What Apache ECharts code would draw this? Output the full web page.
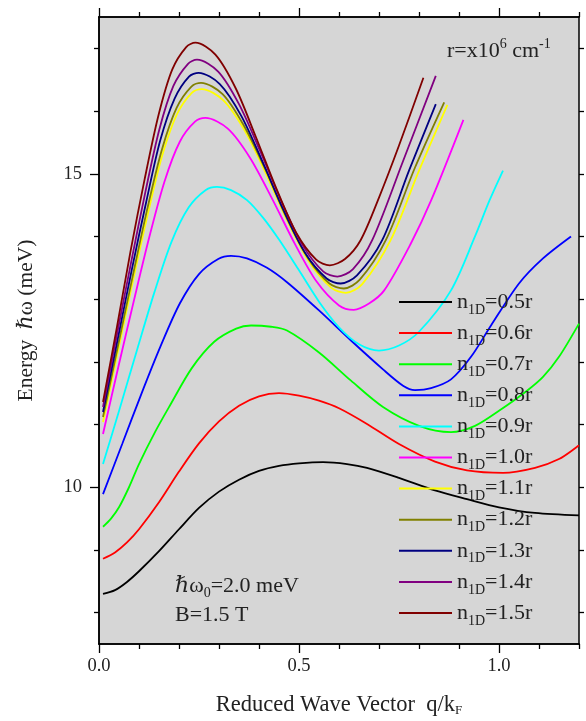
<!DOCTYPE html>
<html>
<head>
  <meta charset="utf-8">
  <title>n1D dispersion</title>
  <script src="https://cdn.jsdelivr.net/npm/echarts@6/dist/echarts.min.js"></script>
  <style>
    html, body { margin: 0; padding: 0; background: #fff; }
  </style>
</head>
<body>
  <div id="main" style="width: 586px;height:721px;"></div>

  <script type="text/javascript">
    // curve data, [q/kF, energy meV]
    var n05 = [[0.01,8.30],[0.04,8.36],[0.07,8.49],[0.10,8.66],[0.15,8.98],[0.20,9.33],[0.25,9.67],[0.30,9.93],[0.35,10.12],[0.40,10.26],[0.45,10.34],[0.50,10.38],[0.56,10.40],[0.62,10.37],[0.67,10.31],[0.75,10.15],[0.84,9.95],[0.92,9.81],[1.00,9.68],[1.09,9.59],[1.20,9.55]]
    var n06 = [[0.01,8.86],[0.04,8.96],[0.07,9.12],[0.10,9.33],[0.15,9.76],[0.20,10.25],[0.25,10.70],[0.30,11.05],[0.35,11.30],[0.40,11.45],[0.45,11.50],[0.50,11.46],[0.55,11.38],[0.60,11.26],[0.67,11.01],[0.75,10.69],[0.84,10.41],[0.92,10.27],[1.01,10.23],[1.09,10.31],[1.15,10.45],[1.20,10.67]]
    var n07 = [[0.01,9.37],[0.03,9.50],[0.05,9.68],[0.075,10.00],[0.10,10.37],[0.14,10.88],[0.177,11.30],[0.232,11.90],[0.288,12.32],[0.343,12.53],[0.38,12.58],[0.43,12.56],[0.47,12.50],[0.55,12.15],[0.63,11.70],[0.71,11.28],[0.80,10.98],[0.88,10.88],[0.94,10.98],[1.00,11.22],[1.07,11.54],[1.11,11.76],[1.15,12.08],[1.20,12.61]]
    var n08 = [[0.01,9.89],[0.058,10.69],[0.106,11.49],[0.154,12.25],[0.202,12.93],[0.25,13.40],[0.298,13.64],[0.33,13.69],[0.37,13.65],[0.42,13.50],[0.47,13.27],[0.55,12.82],[0.63,12.34],[0.71,11.88],[0.76,11.62],[0.79,11.55],[0.83,11.58],[0.88,11.72],[0.93,12.08],[0.98,12.58],[1.05,13.25],[1.11,13.65],[1.18,14.00]]
    var n09 = [[0.01,10.37],[0.053,11.28],[0.096,12.21],[0.138,13.10],[0.181,13.91],[0.224,14.46],[0.267,14.74],[0.295,14.79],[0.33,14.74],[0.37,14.58],[0.41,14.30],[0.45,13.95],[0.50,13.46],[0.55,12.96],[0.60,12.55],[0.65,12.28],[0.70,12.18],[0.75,12.26],[0.80,12.48],[0.88,13.14],[0.94,14.00],[0.976,14.57],[1.01,15.05]]
    var n10 = [[0.01,10.85],[0.048,11.91],[0.087,12.97],[0.125,13.97],[0.164,14.88],[0.202,15.51],[0.240,15.83],[0.266,15.89],[0.322,15.72],[0.377,15.26],[0.433,14.60],[0.489,13.89],[0.544,13.28],[0.600,12.90],[0.637,12.83],[0.675,12.93],[0.713,13.14],[0.779,13.88],[0.83,14.57],[0.911,15.86]]
    var n11 = [[0.01,11.04],[0.047,12.16],[0.084,13.27],[0.121,14.33],[0.158,15.29],[0.195,15.95],[0.232,16.29],[0.257,16.35],[0.311,16.17],[0.365,15.68],[0.419,14.98],[0.473,14.22],[0.527,13.58],[0.581,13.18],[0.617,13.10],[0.658,13.24],[0.729,13.94],[0.80,15.05],[0.871,16.10]]
    var n12 = [[0.01,11.12],[0.047,12.24],[0.084,13.36],[0.120,14.42],[0.157,15.38],[0.194,16.05],[0.231,16.39],[0.255,16.45],[0.309,16.27],[0.362,15.77],[0.416,15.07],[0.469,14.30],[0.523,13.65],[0.576,13.25],[0.612,13.17],[0.652,13.31],[0.717,13.94],[0.79,15.10],[0.863,16.14]]
    var n13 = [[0.01,11.20],[0.046,12.34],[0.082,13.47],[0.118,14.55],[0.153,15.53],[0.189,16.20],[0.225,16.55],[0.249,16.61],[0.302,16.43],[0.356,15.92],[0.409,15.19],[0.462,14.41],[0.515,13.74],[0.569,13.33],[0.604,13.25],[0.645,13.38],[0.708,13.94],[0.775,15.05],[0.842,16.11]]
    var n14 = [[0.01,11.28],[0.045,12.44],[0.081,13.61],[0.116,14.71],[0.151,15.71],[0.186,16.40],[0.222,16.75],[0.245,16.82],[0.298,16.63],[0.350,16.11],[0.403,15.36],[0.456,14.56],[0.508,13.87],[0.561,13.44],[0.596,13.36],[0.635,13.48],[0.683,13.94],[0.76,15.20],[0.842,16.56]]
    var n15 = [[0.01,11.36],[0.045,12.56],[0.079,13.77],[0.114,14.91],[0.149,15.94],[0.183,16.66],[0.218,17.02],[0.241,17.09],[0.291,16.90],[0.342,16.36],[0.392,15.59],[0.443,14.77],[0.493,14.06],[0.543,13.63],[0.577,13.54],[0.615,13.64],[0.654,13.94],[0.70,14.62],[0.75,15.45],[0.811,16.53]]

    var names = ['0.5r', '0.6r', '0.7r', '0.8r', '0.9r', '1.0r', '1.1r', '1.2r', '1.3r', '1.4r', '1.5r']
    var curves = [n05, n06, n07, n08, n09, n10, n11, n12, n13, n14, n15]
    var colors = ['#000000', '#ff0000', '#00ff00', '#0000ff', '#00ffff', '#ff00ff',
      '#ffff00', '#808000', '#000080', '#800080', '#800000']

    // tick positions
    var xMajor = [0, 0.5, 1.0]
    var xMinor = [0.1, 0.2, 0.3, 0.4, 0.6, 0.7, 0.8, 0.9, 1.1, 1.2]
    var yMajor = [10, 15]
    var yMinor = [8, 9, 11, 12, 13, 14, 16, 17]
    var yAll = [8, 9, 10, 11, 12, 13, 14, 15, 16, 17]

    var FONT = '"Liberation Serif", "DejaVu Serif", serif'
    var INK = '#222'

    var myChart = echarts.init(document.getElementById('main'))

    var line = { show: true, onZero: false, lineStyle: { color: '#000', width: 1.5 } }

    function xAx(pos, ticks, len, labels) {
      return {
        type: 'value', position: pos, min: 0, max: 1.2,
        axisLine: line,
        axisTick: { customValues: ticks, length: len, lineStyle: { color: '#000', width: 1.3 } },
        axisLabel: labels ? {
          customValues: ticks, margin: 13,
          fontFamily: FONT, fontSize: 18.5, color: INK,
          formatter: function (v) { return v.toFixed(1) }
        } : { show: false },
        splitLine: { show: false }
      }
    }
    function yAx(pos, ticks, len, labels) {
      return {
        type: 'value', position: pos, min: 7.5, max: 17.5,
        axisLine: line,
        axisTick: { customValues: ticks, length: len, lineStyle: { color: '#000', width: 1.3 } },
        axisLabel: labels ? {
          customValues: ticks, margin: 17,
          fontFamily: FONT, fontSize: 18.5, color: INK
        } : { show: false },
        splitLine: { show: false }
      }
    }

    var xAxes = [xAx('bottom', xMajor, 9, true), xAx('bottom', xMinor, 5, false),
      xAx('top', xMajor, 9, false), xAx('top', xMinor, 5, false)]
    xAxes[0].name = 'Reduced Wave Vector  q/k{s|F}'
    xAxes[0].nameLocation = 'middle'
    xAxes[0].nameGap = 49
    xAxes[0].nameTextStyle = {
      fontFamily: FONT, fontSize: 22.5, color: INK, lineHeight: 24,
      rich: { s: { fontFamily: FONT, fontSize: 13, color: INK, lineHeight: 8, verticalAlign: 'bottom' } }
    }

    var yAxes = [yAx('left', yMajor, 9, true), yAx('left', yMinor, 5, false), yAx('right', yAll, 5, false)]
    yAxes[0].name = 'Energy  \u210Fω (meV)'
    yAxes[0].nameLocation = 'middle'
    yAxes[0].nameRotate = 90
    yAxes[0].nameGap = 62
    yAxes[0].nameTextStyle = { fontFamily: FONT, fontSize: 21.5, color: INK, padding: [0, 0, 0, 20] }

    var series = []
    for (var i = 0; i < curves.length; i++) {
      series.push({
        name: names[i],
        type: 'line',
        xAxisIndex: 0,
        yAxisIndex: 0,
        data: curves[i],
        smooth: 0.3,
        showSymbol: false,
        symbol: 'none',
        lineStyle: { color: colors[i], width: 1.8 },
        itemStyle: { color: colors[i] },
        z: 3
      })
    }

    var option = {
      animation: false,
      backgroundColor: '#fff',
      grid: {
        left: 99, top: 17, right: 7, bottom: 77,
        show: true, backgroundColor: '#d6d6d6', borderWidth: 0,
        outerBoundsMode: 'none'
      },
      xAxis: xAxes,
      yAxis: yAxes,
      legend: {
        orient: 'vertical',
        left: 399, top: 291,
        padding: 0,
        icon: 'rect',
        itemWidth: 53, itemHeight: 2,
        itemGap: 5.1,
        data: names,
        formatter: function (name) { return '{a|n}{b|1D}{a|=' + name + '}' },
        textStyle: {
          color: INK,
          rich: {
            a: { fontFamily: FONT, fontSize: 22, color: INK, lineHeight: 30 },
            b: { fontFamily: FONT, fontSize: 14, color: INK, lineHeight: 8, verticalAlign: 'bottom' }
          }
        }
      },
      graphic: [
        {
          type: 'text', left: 447, top: 37,
          style: {
            text: '{a|r=x10}{c|6}{a| cm}{d|-1}',
            rich: {
              a: { fontFamily: FONT, fontSize: 22, fill: INK, lineHeight: 28 },
              c: { fontFamily: FONT, fontSize: 14, fill: INK, lineHeight: 15, verticalAlign: 'top' },
              d: { fontFamily: FONT, fontSize: 14, fill: INK, lineHeight: 7, verticalAlign: 'top' }
            }
          }
        },
        {
          type: 'text', left: 175, top: 575,
          style: {
            text: '{a|\u210Fω}{b|0}{a|=2.0 meV}',
            rich: {
              a: { fontFamily: FONT, fontSize: 22, fill: INK, lineHeight: 28 },
              b: { fontFamily: FONT, fontSize: 14, fill: INK, lineHeight: 13, verticalAlign: 'bottom' }
            }
          }
        },
        {
          type: 'text', left: 175, top: 604,
          style: {
            text: '{a|B=1.5 T}',
            rich: { a: { fontFamily: FONT, fontSize: 22, fill: INK, lineHeight: 28 } }
          }
        }
      ],
      series: series
    }

    myChart.setOption(option)
  </script>
</body>
</html>
